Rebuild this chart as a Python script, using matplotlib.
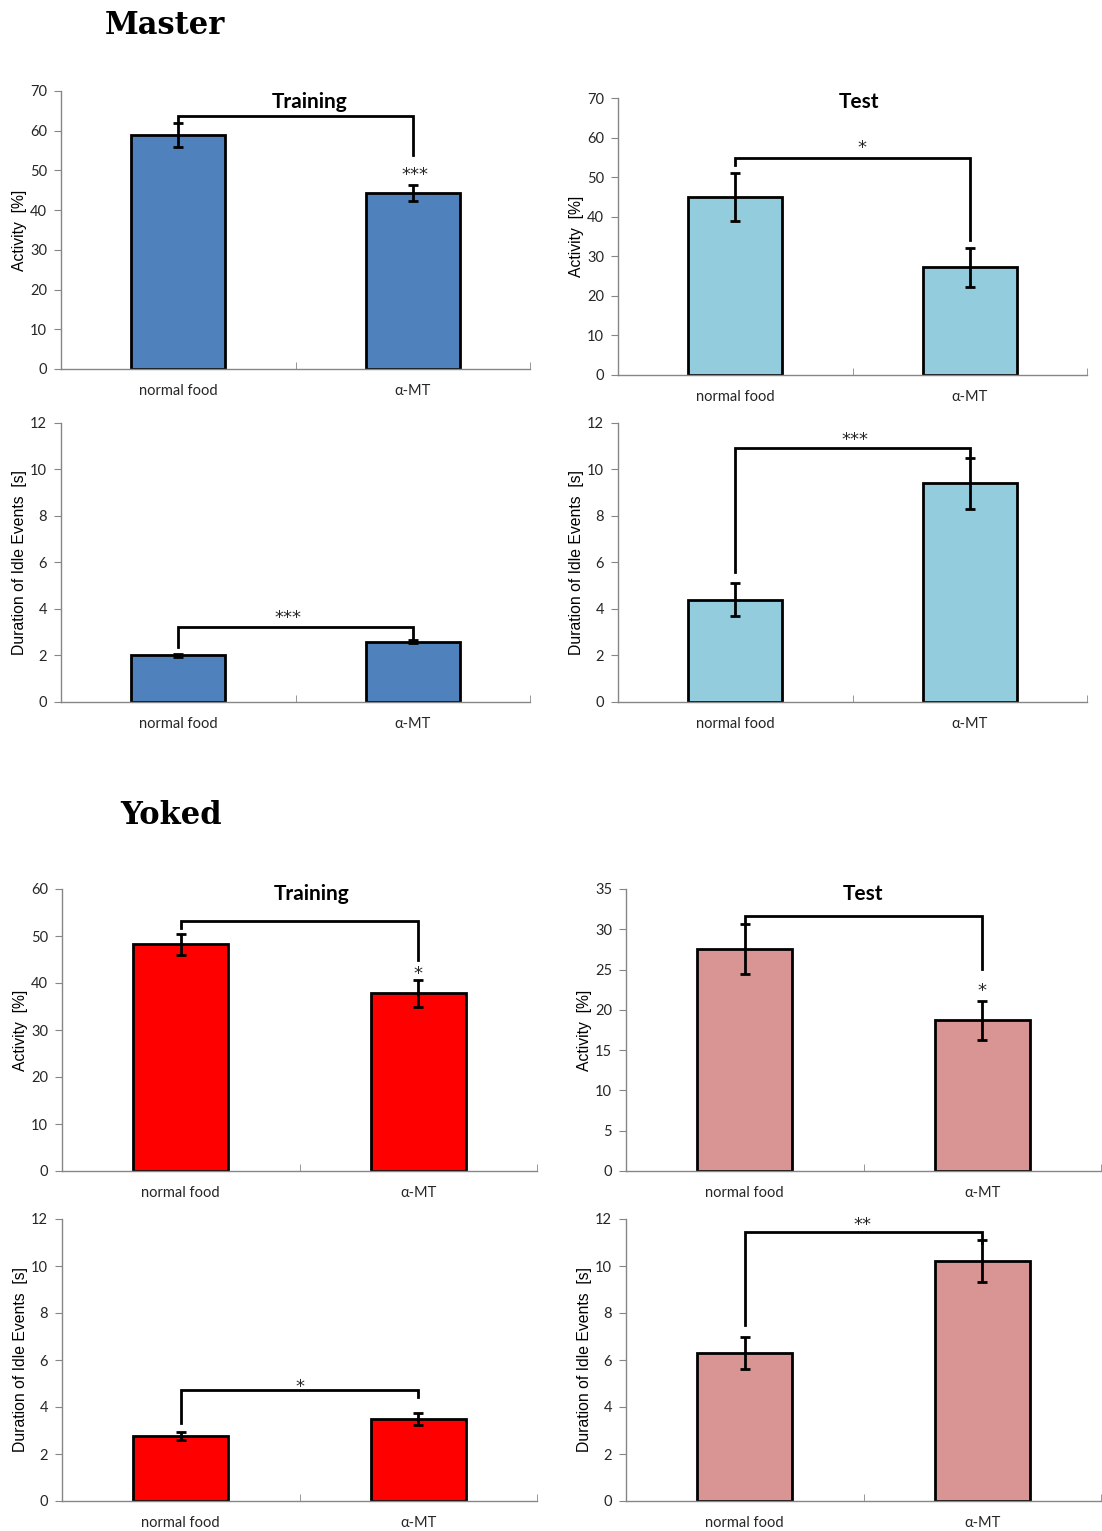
import numpy as np
import matplotlib
matplotlib.use('Agg')
import matplotlib.pyplot as plt


" DATA "

groups = ['normal food', 'α-MT']

# Master
master_train_act = [59.0, 44.3]
master_train_act_err = [3.0, 2.0]
master_test_act = [45.0, 27.2]
master_test_act_err = [6.0, 4.9]
master_train_idle = [2.0, 2.6]
master_train_idle_err = [0.08, 0.06]
master_test_idle = [4.4, 9.4]
master_test_idle_err = [0.7, 1.1]

# Yoked
yoked_train_act = [48.2, 37.8]
yoked_train_act_err = [2.2, 2.9]
yoked_test_act = [27.5, 18.7]
yoked_test_act_err = [3.1, 2.4]
yoked_train_idle = [2.75, 3.5]
yoked_train_idle_err = [0.17, 0.25]
yoked_test_idle = [6.3, 10.2]
yoked_test_idle_err = [0.7, 0.9]

stars = ['***', '*', '***', '***', '*', '*', '*', '**']

c_master_train = '#4F81BD'
c_master_test = '#93CDDD'
c_yoked_train = '#FF0000'
c_yoked_test = '#D99594'

W, H = 1102, 1531
fig = plt.figure(figsize=(W / 100, H / 100), dpi=100)


def px_axes(x0, x1, ytop, ybot):
    return fig.add_axes([x0 / W, 1 - ybot / H, (x1 - x0) / W, (ybot - ytop) / H])


def bar_panel(ax, vals, errs, color, ymax, ystep, ylabel):
    x = np.arange(len(vals))
    ax.bar(x, vals, width=0.4, color=color, edgecolor='black', linewidth=2, zorder=2)
    ax.errorbar(x, vals, yerr=errs, fmt='none', ecolor='black', elinewidth=2,
                capsize=3.5, capthick=2, zorder=3)
    ax.set_xlim(-0.5, 1.5)
    ax.set_ylim(0, ymax)
    ax.set_yticks(np.arange(0, ymax + 0.01, ystep))
    ax.set_xticks([0, 1])
    ax.set_xticklabels(groups, family='Lato', fontsize=10.5, color='#262626')
    ax.set_xticks([-0.5, 0.5, 1.5], minor=True)
    ax.tick_params(axis='x', which='major', length=0, pad=11)
    ax.tick_params(axis='x', which='minor', direction='in', length=5, color='#868686')
    ax.tick_params(axis='y', direction='out', length=5, color='#868686',
                   labelsize=10.5, labelcolor='#262626', pad=5)
    for lab in ax.get_yticklabels():
        lab.set_family('Lato')
    for s in ['top', 'right']:
        ax.spines[s].set_visible(False)
    for s in ['left', 'bottom']:
        ax.spines[s].set_color('#868686')
        ax.spines[s].set_linewidth(1)
    ax.set_ylabel(ylabel, family='Liberation Sans', fontsize=11.3, labelpad=2)


def bracket(ax, y, yl, yr, star, sx, sy):
    ax.plot([0, 0, 1, 1], [yl, y, y, yr], color='black', lw=2, zorder=4,
            solid_joinstyle='miter')
    ax.text(sx, sy, star, ha='center', va='center', fontsize=13, color='#262626')


act_lab = 'Activity  [%]'
idle_lab = 'Duration of Idle Events  [s]'

# Master - training activity
ax1 = px_axes(61, 530, 91, 369)
bar_panel(ax1, master_train_act, master_train_act_err, c_master_train, 70, 10, act_lab)
bracket(ax1, 63.7, 62.0, 53.9, stars[0], 1.01, 48.8)
ax1.text(0.53, 0.96, 'Training', transform=ax1.transAxes, ha='center', va='center',
         family='Lato', fontweight='bold', fontsize=15)

# Master - test activity
ax2 = px_axes(618, 1087, 98, 375)
bar_panel(ax2, master_test_act, master_test_act_err, c_master_test, 70, 10, act_lab)
bracket(ax2, 54.8, 53.1, 34.1, stars[1], 0.54, 57.3)
ax2.text(0.514, 0.986, 'Test', transform=ax2.transAxes, ha='center', va='center',
         family='Lato', fontweight='bold', fontsize=15)

# Master - idle duration, training
ax3 = px_axes(61, 530, 423, 702)
bar_panel(ax3, master_train_idle, master_train_idle_err, c_master_train, 12, 2, idle_lab)
bracket(ax3, 3.23, 2.37, 2.67, stars[2], 0.47, 3.6)

# Master - idle duration, test
ax4 = px_axes(618, 1087, 423, 702)
bar_panel(ax4, master_test_idle, master_test_idle_err, c_master_test, 12, 2, idle_lab)
bracket(ax4, 10.92, 5.6, 10.58, stars[3], 0.51, 11.25)

# Yoked - training activity
ax5 = px_axes(62, 537, 889, 1171)
bar_panel(ax5, yoked_train_act, yoked_train_act_err, c_yoked_train, 60, 10, act_lab)
bracket(ax5, 53.2, 51.7, 44.9, stars[4], 1.0, 42.0)
ax5.text(0.526, 0.982, 'Training', transform=ax5.transAxes, ha='center', va='center',
         family='Lato', fontweight='bold', fontsize=15)

# Yoked - test activity
ax6 = px_axes(626, 1101, 889, 1171)
bar_panel(ax6, yoked_test_act, yoked_test_act_err, c_yoked_test, 35, 5, act_lab)
bracket(ax6, 31.6, 30.8, 25.1, stars[5], 1.0, 22.3)
ax6.text(0.499, 0.982, 'Test', transform=ax6.transAxes, ha='center', va='center',
         family='Lato', fontweight='bold', fontsize=15)

# Yoked - idle duration, training
ax7 = px_axes(62, 537, 1219, 1501)
bar_panel(ax7, yoked_train_idle, yoked_train_idle_err, c_yoked_train, 12, 2, idle_lab)
bracket(ax7, 4.72, 3.32, 4.43, stars[6], 0.5, 4.85)

# Yoked - idle duration, test
ax8 = px_axes(626, 1101, 1219, 1501)
bar_panel(ax8, yoked_test_idle, yoked_test_idle_err, c_yoked_test, 12, 2, idle_lab)
bracket(ax8, 11.45, 7.5, 10.98, stars[7], 0.494, 11.75)

# group headings
fig.text(105 / W, 1 - 26 / H, 'Master', family='DejaVu Serif', fontweight='bold',
         fontsize=22, ha='left', va='center')
fig.text(120 / W, 1 - 816 / H, 'Yoked', family='DejaVu Serif', fontweight='bold',
         fontsize=22, ha='left', va='center')

fig.savefig('out.png', dpi=100)
